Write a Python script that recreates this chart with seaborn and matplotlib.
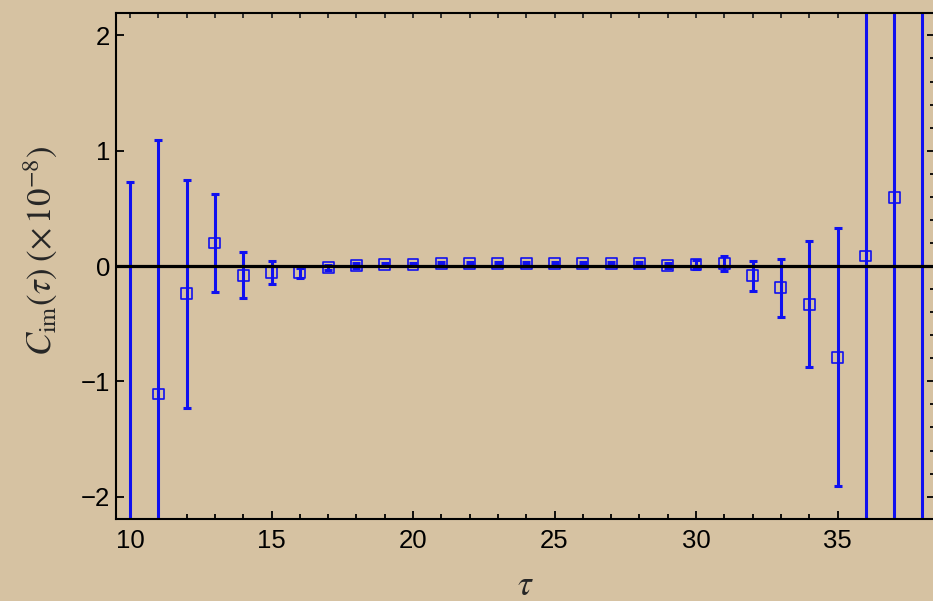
import matplotlib
matplotlib.use("Agg")
import matplotlib.pyplot as plt
import numpy as np
import pandas as pd
import seaborn as sns
from matplotlib.ticker import MultipleLocator

# Imaginary part of the correlator vs. Euclidean time, with statistical errors
tau = list(range(10, 39))
c_im = [-2.50, -1.11, -0.24, 0.20, -0.08, -0.06, -0.06, -0.015, 0.006, 0.015,
        0.015, 0.023, 0.023, 0.023, 0.023, 0.023, 0.023, 0.023, 0.023, 0.003,
        0.011, 0.026, -0.084, -0.19, -0.33, -0.79, 0.087, 0.596, -3.0]
c_err = [3.23, 2.20, 0.99, 0.425, 0.20, 0.10, 0.045, 0.02, 0.02, 0.015,
         0.015, 0.015, 0.015, 0.015, 0.015, 0.015, 0.015, 0.015, 0.015, 0.02,
         0.04, 0.065, 0.13, 0.25, 0.55, 1.12, 3.0, 3.5, 6.0]
x_ticks = [10, 15, 20, 25, 30, 35]
y_ticks = [-2, -1, 0, 1, 2]

df = pd.DataFrame({"tau": tau, "c": c_im, "err": c_err})

paper = "#d6c2a2"
blue = "#1010f0"

sns.set_theme(style="ticks")
plt.rcParams["font.family"] = ["Liberation Sans", "DejaVu Sans"]
plt.rcParams["mathtext.fontset"] = "stix"

fig = plt.figure(figsize=(9.33, 6.01), dpi=100, facecolor=paper)
ax = fig.add_axes([116 / 933, 82 / 601, 819 / 933, 505.7 / 601])
ax.set_facecolor(paper)

ax.errorbar(df["tau"], df["c"], yerr=df["err"], fmt="none", ecolor=blue,
            elinewidth=2.2, capsize=2.9, capthick=2.2, zorder=2)
sns.scatterplot(data=df, x="tau", y="c", ax=ax, marker="s", s=62,
                facecolor="none", edgecolor=blue, linewidth=1.2, zorder=3,
                legend=False)
ax.axhline(0, color="black", lw=2.3, zorder=4)

ax.set_xlim(9.505, 38.445)
ax.set_ylim(-2.194, 2.192)
ax.set_xticks(x_ticks)
ax.set_xticklabels([str(t) for t in x_ticks])
ax.set_yticks(y_ticks)
ax.set_yticklabels([str(t).replace("-", "\u2212") for t in y_ticks])
ax.xaxis.set_minor_locator(MultipleLocator(1))
ax.yaxis.set_minor_locator(MultipleLocator(0.2))

ax.tick_params(which="both", direction="in", colors="black", labelsize=18.5,
               width=1.3, bottom=True, left=True, right=True, top=False)
ax.tick_params(axis="x", which="major", length=6, pad=7)
ax.tick_params(axis="x", which="minor", length=3.5)
ax.tick_params(axis="y", which="major", length=6, pad=4)
ax.tick_params(axis="y", which="minor", length=3.5, left=False)

# short ticks at every integer along the top edge
top = ax.secondary_xaxis("top")
top.set_xticks(range(10, 39))
top.tick_params(direction="in", length=3.5, width=1.3, labeltop=False)
top.spines["top"].set_visible(False)

for s in ax.spines.values():
    s.set_color("black")
    s.set_linewidth(1.5)
    s.set_visible(True)

ax.set_ylabel(r"$C_{\mathrm{im}}(\tau)\;(\times\,10^{-8})$", fontsize=25)
ax.yaxis.set_label_coords(-0.068, 0.53)
ax.set_xlabel(r"$\tau$", fontsize=25)
ax.xaxis.set_label_coords(0.5, -0.098)

fig.savefig("out.png", dpi=100, facecolor=paper)
